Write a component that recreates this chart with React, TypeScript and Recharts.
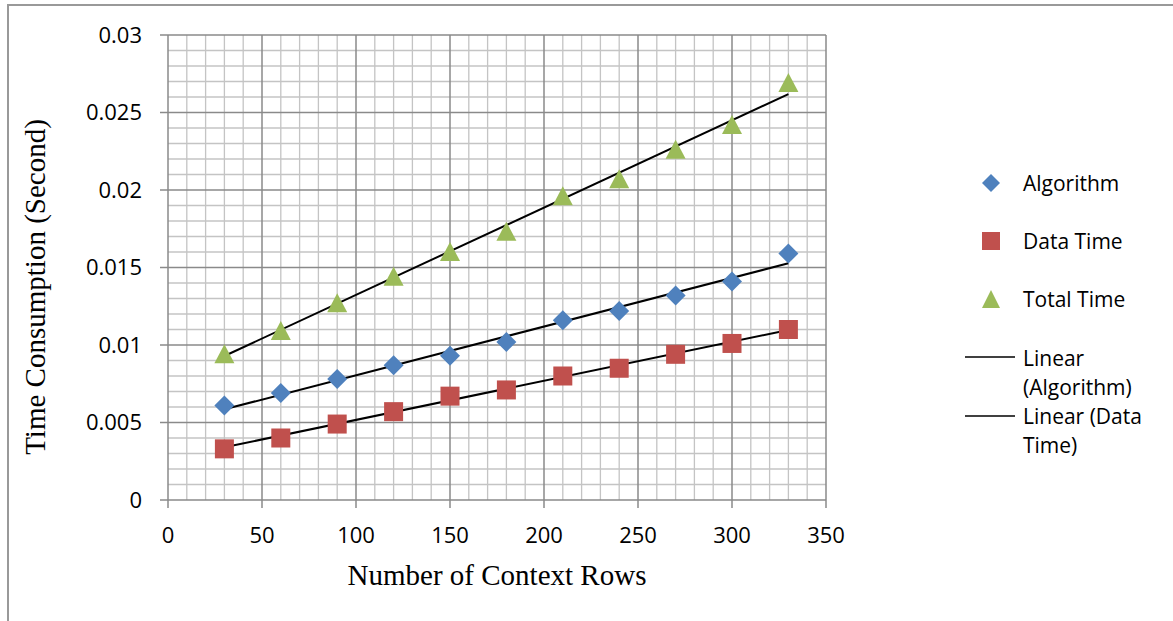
import React from 'react'
import { ComposedChart, Scatter, Line, XAxis, YAxis, ReferenceLine, Legend } from 'recharts'

const rows = [30, 60, 90, 120, 150, 180, 210, 240, 270, 300, 330]
const algorithm = [0.0061, 0.0069, 0.0078, 0.0087, 0.0093, 0.0102, 0.0116, 0.0122, 0.0132, 0.0141, 0.0159]
const dataTime = [0.0033, 0.004, 0.0049, 0.0057, 0.0067, 0.0071, 0.008, 0.0085, 0.0094, 0.0101, 0.011]
const totalTime = [0.0094, 0.0109, 0.0127, 0.0144, 0.016, 0.0173, 0.0196, 0.0207, 0.0226, 0.0242, 0.0269]

// trendline end points
const trendRows = [30, 330]
const algorithmTrend = [0.00585, 0.01527]
const dataTimeTrend = [0.0034, 0.01097]
const totalTimeTrend = [0.00929, 0.02619]

const xTicks = [0, 50, 100, 150, 200, 250, 300, 350]
const yTicks = [0, 0.005, 0.01, 0.015, 0.02, 0.025, 0.03]

const xMinor = Array.from({ length: 35 }, (_, i) => i * 10).filter((v) => v % 50 !== 0)
const yMinor = Array.from({ length: 30 }, (_, i) => i).filter((v) => v % 5 !== 0).map((v) => v / 1000)

const toPoints = (xs: number[], ys: number[]) => xs.map((x, i) => ({ x, y: ys[i] }))

const BLUE = '#4F81BD'
const RED = '#C0504D'
const GREEN = '#9BBB59'
const MAJOR = '#8a8a8a'
const MINOR = '#c4c4c4'
const SANS = '"Open Sans", sans-serif'
const SERIF = '"Liberation Serif", "Times New Roman", serif'

const Diamond = ({ cx, cy }: any) => (
  <polygon points={`${cx},${cy - 10} ${cx + 10},${cy} ${cx},${cy + 10} ${cx - 10},${cy}`} fill={BLUE} />
)
const Square = ({ cx, cy }: any) => <rect x={cx - 9.5} y={cy - 9.5} width={19} height={19} fill={RED} />
const Triangle = ({ cx, cy }: any) => (
  <polygon points={`${cx},${cy - 10} ${cx + 10},${cy + 9} ${cx - 10},${cy + 9}`} fill={GREEN} />
)

const YTitle = () => {
  const x = 35
  const y = 287
  return (
    <text
      x={x}
      y={y}
      transform={`rotate(-90 ${x} ${y})`}
      textAnchor="middle"
      dominantBaseline="central"
      fontFamily={SERIF}
      fontSize={29}
      fill="#000"
    >
      Time Consumption (Second)
    </text>
  )
}

const LegendBox = () => {
  const txt = { fontFamily: SANS, fontSize: 21, fill: '#000', dominantBaseline: 'central' as const }
  return (
    <svg width={218} height={300}>
      <polygon points="36,14 45,23 36,32 27,23" fill={BLUE} />
      <text x={68} y={23} {...txt}>Algorithm</text>
      <rect x={27} y={72} width={18} height={18} fill={RED} />
      <text x={68} y={81} {...txt}>Data Time</text>
      <polygon points="36,130 45,148 27,148" fill={GREEN} />
      <text x={68} y={139} {...txt}>Total Time</text>
      <line x1={10} x2={60} y1={197} y2={197} stroke="#000" strokeWidth={1.5} />
      <text x={68} y={198} {...txt}>Linear</text>
      <text x={68} y={227} {...txt}>(Algorithm)</text>
      <line x1={10} x2={60} y1={256} y2={256} stroke="#000" strokeWidth={1.5} />
      <text x={68} y={256} {...txt}>Linear (Data</text>
      <text x={68} y={285} {...txt}>Time)</text>
    </svg>
  )
}

export default function App() {
  return (
    <div style={{ position: 'absolute', left: 0, top: 0, width: 1173, height: 621, overflow: 'hidden', background: '#fff' }}>
      <div
        style={{
          position: 'absolute',
          left: 7,
          top: 4,
          width: 1300,
          height: 800,
          borderTop: '2px solid #999',
          borderLeft: '2px solid #999',
        }}
      />
      <ComposedChart width={1173} height={621} margin={{ top: 35, right: 347, bottom: 0, left: 0 }}>
        <XAxis
          type="number"
          dataKey="x"
          domain={[0, 350]}
          ticks={xTicks}
          interval={0}
          height={121}
          stroke={MAJOR}
          strokeWidth={1.5}
          tickSize={8}
          tickMargin={19}
          tick={{ fill: '#000', fontSize: 22, fontFamily: SANS }}
          label={{ value: 'Number of Context Rows', position: 'insideBottom', offset: 36, fill: '#000', fontSize: 29, fontFamily: SERIF }}
        />
        <YAxis
          type="number"
          domain={[0, 0.03]}
          ticks={yTicks}
          interval={0}
          width={168}
          stroke={MAJOR}
          strokeWidth={1.5}
          tickSize={8}
          tickMargin={18}
          tick={{ fill: '#000', fontSize: 22, fontFamily: SANS }}
          label={<YTitle />}
        />
        {xMinor.map((v) => (
          <ReferenceLine key={`xm${v}`} x={v} stroke={MINOR} strokeWidth={1.3} />
        ))}
        {yMinor.map((v) => (
          <ReferenceLine key={`ym${v}`} y={v} stroke={MINOR} strokeWidth={1.3} />
        ))}
        {xTicks.slice(1).map((v) => (
          <ReferenceLine key={`xM${v}`} x={v} stroke={MAJOR} strokeWidth={1.5} />
        ))}
        {yTicks.slice(1).map((v) => (
          <ReferenceLine key={`yM${v}`} y={v} stroke={MAJOR} strokeWidth={1.5} />
        ))}
        <Scatter name="Algorithm" data={toPoints(rows, algorithm)} dataKey="y" shape={<Diamond />} isAnimationActive={false} />
        <Scatter name="Data Time" data={toPoints(rows, dataTime)} dataKey="y" shape={<Square />} isAnimationActive={false} />
        <Scatter name="Total Time" data={toPoints(rows, totalTime)} dataKey="y" shape={<Triangle />} isAnimationActive={false} />
        <Line data={toPoints(trendRows, algorithmTrend)} dataKey="y" stroke="#000" strokeWidth={2} dot={false} isAnimationActive={false} />
        <Line data={toPoints(trendRows, dataTimeTrend)} dataKey="y" stroke="#000" strokeWidth={2} dot={false} isAnimationActive={false} />
        <Line data={toPoints(trendRows, totalTimeTrend)} dataKey="y" stroke="#000" strokeWidth={2} dot={false} isAnimationActive={false} />
        <Legend
          layout="vertical"
          align="center"
          verticalAlign="middle"
          content={<LegendBox />}
          wrapperStyle={{ left: 955, top: 160, width: 218, height: 300 }}
        />
      </ComposedChart>
    </div>
  )
}
